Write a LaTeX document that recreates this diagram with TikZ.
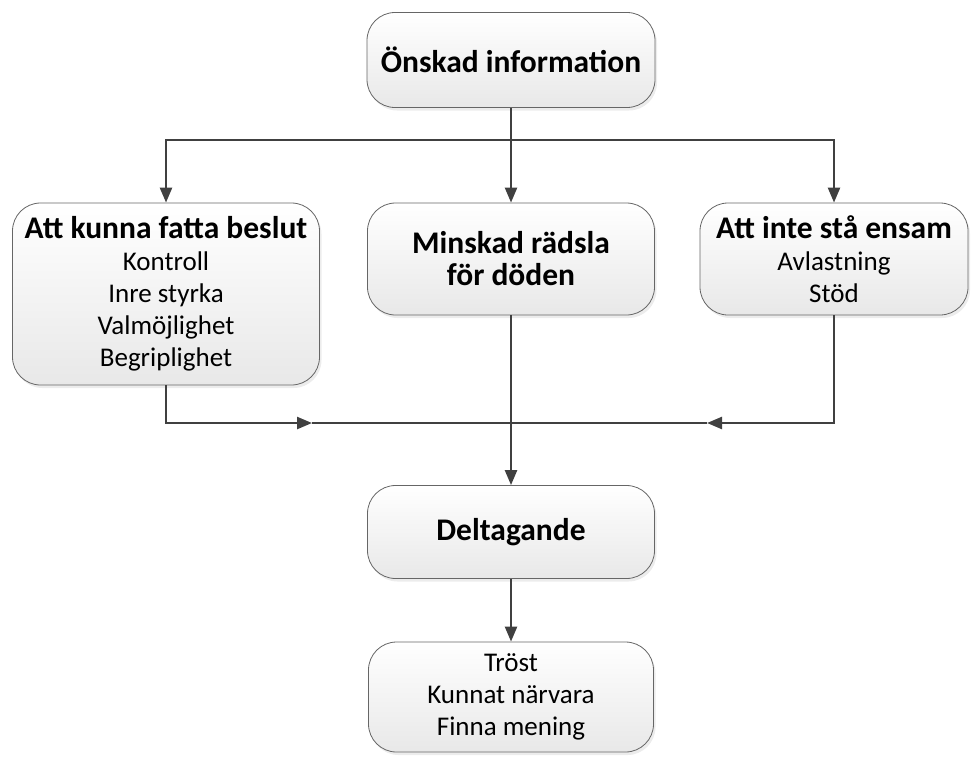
\documentclass[tikz,border=0pt]{standalone}
\usepackage{fontspec}
\setmainfont{Carlito}
\usetikzlibrary{arrows.meta,shadows}
\newcommand\hdr{\fontsize{31.5}{36}\selectfont\bfseries}

\begin{document}
\begin{tikzpicture}[
    x = 1pt, y = -1pt,
    > = {Triangle[length=15pt,width=12pt]},
    box/.style = {draw = black!60, line width = 0.8pt, rounded corners = 28pt,
      top color = white, bottom color = black!9,
      drop shadow = {shadow xshift = 2pt, shadow yshift = -3pt, fill = black!15},
      align = center, inner sep = 0pt,
      font = \fontsize{27}{32}\selectfont},
    line/.style = {draw = black!75, line width = 2.4pt},
    arr/.style = {line, ->},
    ]
    \useasboundingbox (0,0) rectangle (971,758);

    % boxes, placed at pixel positions of the reference
    \node[box, minimum width = 288pt, minimum height = 95pt] (wish) at (511, 60) {\hdr Önskad information};
    \node[box, minimum width = 307pt, minimum height = 182pt] (decide) at (166, 294)
      {{\hdr Att kunna fatta beslut}\\ Kontroll\\ Inre styrka\\ Valmöjlighet\\ Begriplighet};
    \node[box, minimum width = 287pt, minimum height = 112pt] (fear) at (511, 259)
      {\hdr Minskad rädsla\\ \hdr för döden};
    \node[box, minimum width = 268pt, minimum height = 112pt] (alone) at (834, 259)
      {{\hdr Att inte stå ensam}\\ Avlastning\\ Stöd};
    \node[box, minimum width = 287pt, minimum height = 93pt] (part) at (511, 532) {\hdr Deltagande};
    \node[box, minimum width = 285pt, minimum height = 110pt] (gain) at (511, 697)
      {Tröst\\ Kunnat närvara\\ Finna mening};

    % junctions of the connectors
    \coordinate (split) at (511, 140);
    \coordinate (merge) at (511, 423);
    \coordinate (lmark) at (312, 423);
    \coordinate (rmark) at (707, 423);

    \draw[arr] (wish) -- (fear);
    \draw[arr] (split) -| (decide.north);
    \draw[arr] (split) -| (alone.north);
    \draw[arr] (decide.south) |- (lmark);
    \draw[line] (lmark) -- (merge);
    \draw[arr] (alone.south) |- (rmark);
    \draw[line] (rmark) -- (merge);
    \draw[arr] (fear) -- (part);
    \draw[arr] (part) -- (gain);
\end{tikzpicture}
\end{document}
